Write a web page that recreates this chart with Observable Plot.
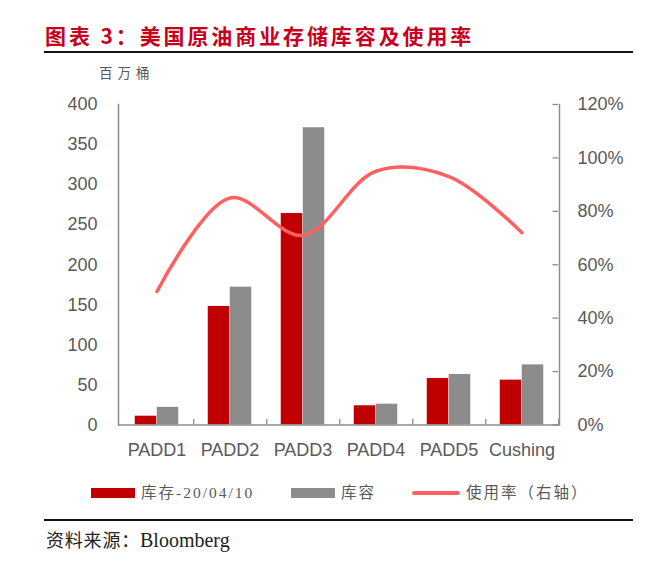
<!DOCTYPE html>
<html><head><meta charset="utf-8">
<script src="https://cdn.jsdelivr.net/npm/d3@7"></script>
<script src="https://cdn.jsdelivr.net/npm/@observablehq/plot@0.6"></script>
<style>
body{margin:0;background:#fff;}
#wrap{position:relative;width:650px;height:578px;background:#fff;overflow:hidden;}
#wrap svg{position:absolute;left:0;top:0;}
.abs{position:absolute;white-space:nowrap;line-height:1;}
.rule{position:absolute;background:#111;}
.sw{position:absolute;}
.leg{position:absolute;white-space:nowrap;line-height:1;font-family:"Liberation Serif","Noto Sans CJK SC",serif;font-size:15.5px;color:#595959;letter-spacing:2px;}
</style></head><body><div id="wrap"></div>
<script>
const categories = ["PADD1","PADD2","PADD3","PADD4","PADD5","Cushing"];
const stock = [11,148,264,24,58,56];
const capacity = [22,172,371,26,63,75];
const usage = [50,85,71,95,93,72];
const leftTicks = [0,50,100,150,200,250,300,350,400];
const rightTicks = [0,20,40,60,80,100,120];
const leftMax = 400, rightMax = 120;

const data = categories.map((c,i)=>({cat:c, stock:stock[i], capacity:capacity[i], usage:usage[i]}));
const toLeft = p => p*leftMax/rightMax;

const W=650, H=470, mL=118, mR=91, mT=104, mB=45.5;
const bw = (W-mL-mR)/categories.length;
const barW = 22;
const outer = bw/2 - barW;
const axisColor = "#8c8c8c";
const labelColor = "#595959";
const lastCat = categories[categories.length-1];

const chart = Plot.plot({
  width: W, height: H,
  marginLeft: mL, marginRight: mR, marginTop: mT, marginBottom: mB,
  style: {fontFamily: "'Liberation Sans', Arial, sans-serif", fontSize: "18px", color: labelColor, background: "transparent"},
  x: {domain: categories, padding: 0, axis: null, label: null},
  y: {domain: [0, leftMax], axis: null, label: null},
  marks: [
    Plot.barY(data, {x:"cat", y:"stock", fill:"#C00000", insetLeft: outer, insetRight: bw/2}),
    Plot.barY(data, {x:"cat", y:"capacity", fill:"#8C8C8C", insetLeft: bw/2, insetRight: outer}),
    Plot.ruleX(categories, {x: d=>d, y1: 0, y2: 7, dx: bw/2, stroke: axisColor, strokeWidth: 1.3}),
    Plot.tickY(rightTicks.map(toLeft), {y: d=>d, x: () => lastCat, insetLeft: bw-6, stroke: axisColor, strokeWidth: 1.3}),
    Plot.ruleY([0], {stroke: axisColor, strokeWidth: 1.5}),
    Plot.frame({anchor: "left", stroke: axisColor, strokeWidth: 1.5}),
    Plot.frame({anchor: "right", stroke: axisColor, strokeWidth: 1.5}),
    Plot.axisX({anchor: "bottom", tickSize: 0, tickPadding: 18, fill: labelColor, fontSize: 18, label: null}),
    Plot.axisY(leftTicks, {anchor: "left", tickSize: 0, tickPadding: 21, fill: labelColor, fontSize: 18, label: null}),
    Plot.axisY(rightTicks.map(toLeft), {anchor: "right", tickSize: 0, tickPadding: 18, fill: labelColor, fontSize: 18, label: null,
      tickFormat: d => Math.round(d*rightMax/leftMax) + "%"}),
    Plot.line(data, {x:"cat", y: d => toLeft(d.usage), stroke:"#FF6161", strokeWidth: 3.5, curve: "catmull-rom", strokeLinecap: "round"})
  ]
});
const wrap = document.getElementById("wrap");
wrap.appendChild(chart);

function add(html){ wrap.insertAdjacentHTML("beforeend", html); }
add(`<div class="abs" style="left:45px;top:25px;font-family:'Noto Sans CJK SC',sans-serif;font-weight:700;font-size:21px;color:#C8001E;letter-spacing:2.9px;">图表 3：美国原油商业存储库容及使用率</div>`);
add(`<div class="rule" style="left:44px;top:51px;width:589px;height:2px;"></div>`);
add(`<div class="abs" style="left:99px;top:66px;font-family:'Noto Sans CJK SC',sans-serif;font-size:13.5px;color:#595959;letter-spacing:5px;">百万桶</div>`);
add(`<div class="sw" style="left:91px;top:488px;width:44px;height:10px;background:#C00000;"></div>`);
add(`<div class="leg" style="left:141px;top:485px;">库存-20/04/10</div>`);
add(`<div class="sw" style="left:291px;top:488px;width:44px;height:10px;background:#8C8C8C;"></div>`);
add(`<div class="leg" style="left:341px;top:485px;">库容</div>`);
add(`<div class="sw" style="left:412px;top:491px;width:48px;height:4px;border-radius:2px;background:#FF6161;"></div>`);
add(`<div class="leg" style="left:466px;top:485px;">使用率（右轴）</div>`);
add(`<div class="rule" style="left:44px;top:519px;width:589px;height:2px;"></div>`);
add(`<div class="abs" style="left:46px;top:530px;font-family:'Noto Sans CJK SC',sans-serif;font-size:18px;color:#222;letter-spacing:0.8px;">资料来源：<span style="font-family:'Liberation Serif',serif;font-size:20px;letter-spacing:0;">Bloomberg</span></div>`);
</script>
</body></html>
